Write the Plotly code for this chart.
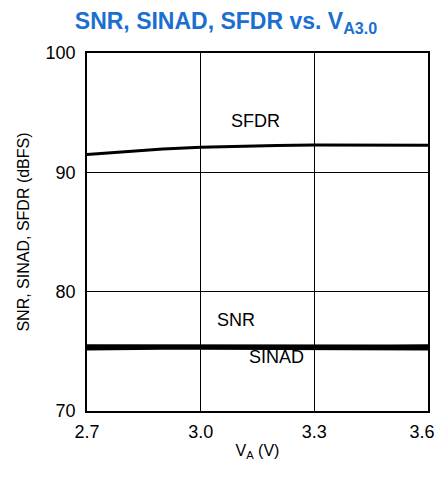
import plotly.graph_objects as go

va = [2.7, 2.8, 2.9, 3.0, 3.1, 3.2, 3.3, 3.4, 3.5, 3.6]
sfdr = [91.5, 91.75, 91.95, 92.1, 92.2, 92.25, 92.3, 92.3, 92.3, 92.28]
snr = [75.44, 75.43, 75.42, 75.42, 75.42, 75.42, 75.42, 75.42, 75.43, 75.44]
sinad = [75.22, 75.27, 75.27, 75.27, 75.27, 75.27, 75.27, 75.26, 75.24, 75.22]

xticks = [2.7, 3.0, 3.3]
xtick_labels = ["2.7", "3.0", "3.3"]
xtick_last = [3.6]
xtick_last_label = ["3.6"]
yticks = [70, 80, 90, 100]

fig = go.Figure()
fig.add_trace(go.Scatter(x=va, y=sfdr, mode="lines", line=dict(color="black", width=3), name="SFDR"))
fig.add_trace(go.Scatter(x=va, y=snr, mode="lines", line=dict(color="black", width=3.5), name="SNR"))
fig.add_trace(go.Scatter(x=va, y=sinad, mode="lines", line=dict(color="black", width=3.5), name="SINAD",
                         xaxis="x2"))

fam = "Liberation Sans, Arial, sans-serif"
tickfont = dict(family=fam, size=18, color="black")
titlefont = dict(family=fam, size=16, color="black")
fig.update_layout(
    width=436, height=458,
    margin=dict(l=79, r=16, t=45, b=55),
    paper_bgcolor="white", plot_bgcolor="white",
    showlegend=False,
    font=tickfont,
    title=dict(text="<b>SNR, SINAD, SFDR vs. V<sub>A3.0</sub></b>",
               x=0.5, xanchor="center", xref="container",
               y=0.99, yanchor="top", yref="container", pad=dict(t=0, b=0),
               font=dict(family=fam, size=23, color="#1a6fd0")),
    xaxis=dict(range=[2.7, 3.6], tickvals=xticks + [3.6], ticktext=xtick_labels + [""],
               showgrid=True, gridcolor="black", gridwidth=1, zeroline=False,
               showline=True, linecolor="black", linewidth=1.5, mirror=True,
               ticks="outside", ticklen=4, tickcolor="rgba(0,0,0,0)", tickfont=tickfont,
               automargin=False,
               title=dict(text="V<sub>A</sub> (V)", standoff=3, font=titlefont)),
    xaxis2=dict(range=[2.7, 3.6], overlaying="x", matches="x", side="bottom",
                tickvals=xtick_last, ticktext=xtick_last_label,
                showgrid=False, zeroline=False, showline=False,
                ticks="outside", ticklen=4, tickcolor="rgba(0,0,0,0)", tickfont=tickfont,
                ticklabelshift=-6, automargin=False),
    yaxis=dict(range=[70, 100], tickvals=yticks,
               showgrid=True, gridcolor="black", gridwidth=1, zeroline=False,
               showline=True, linecolor="black", linewidth=1.5, mirror=True,
               ticks="outside", ticklen=6, tickcolor="rgba(0,0,0,0)", tickfont=tickfont,
               automargin=False,
               title=dict(text="SNR, SINAD, SFDR (dBFS)", standoff=12, font=titlefont)),
)
fig.add_annotation(x=3.146, y=94.3, text="SFDR", showarrow=False, font=tickfont)
fig.add_annotation(x=3.093, y=77.6, text="SNR", showarrow=False, font=tickfont)
fig.add_annotation(x=3.20, y=74.5, text="SINAD", showarrow=False, font=tickfont)

fig.write_html("out.html")
